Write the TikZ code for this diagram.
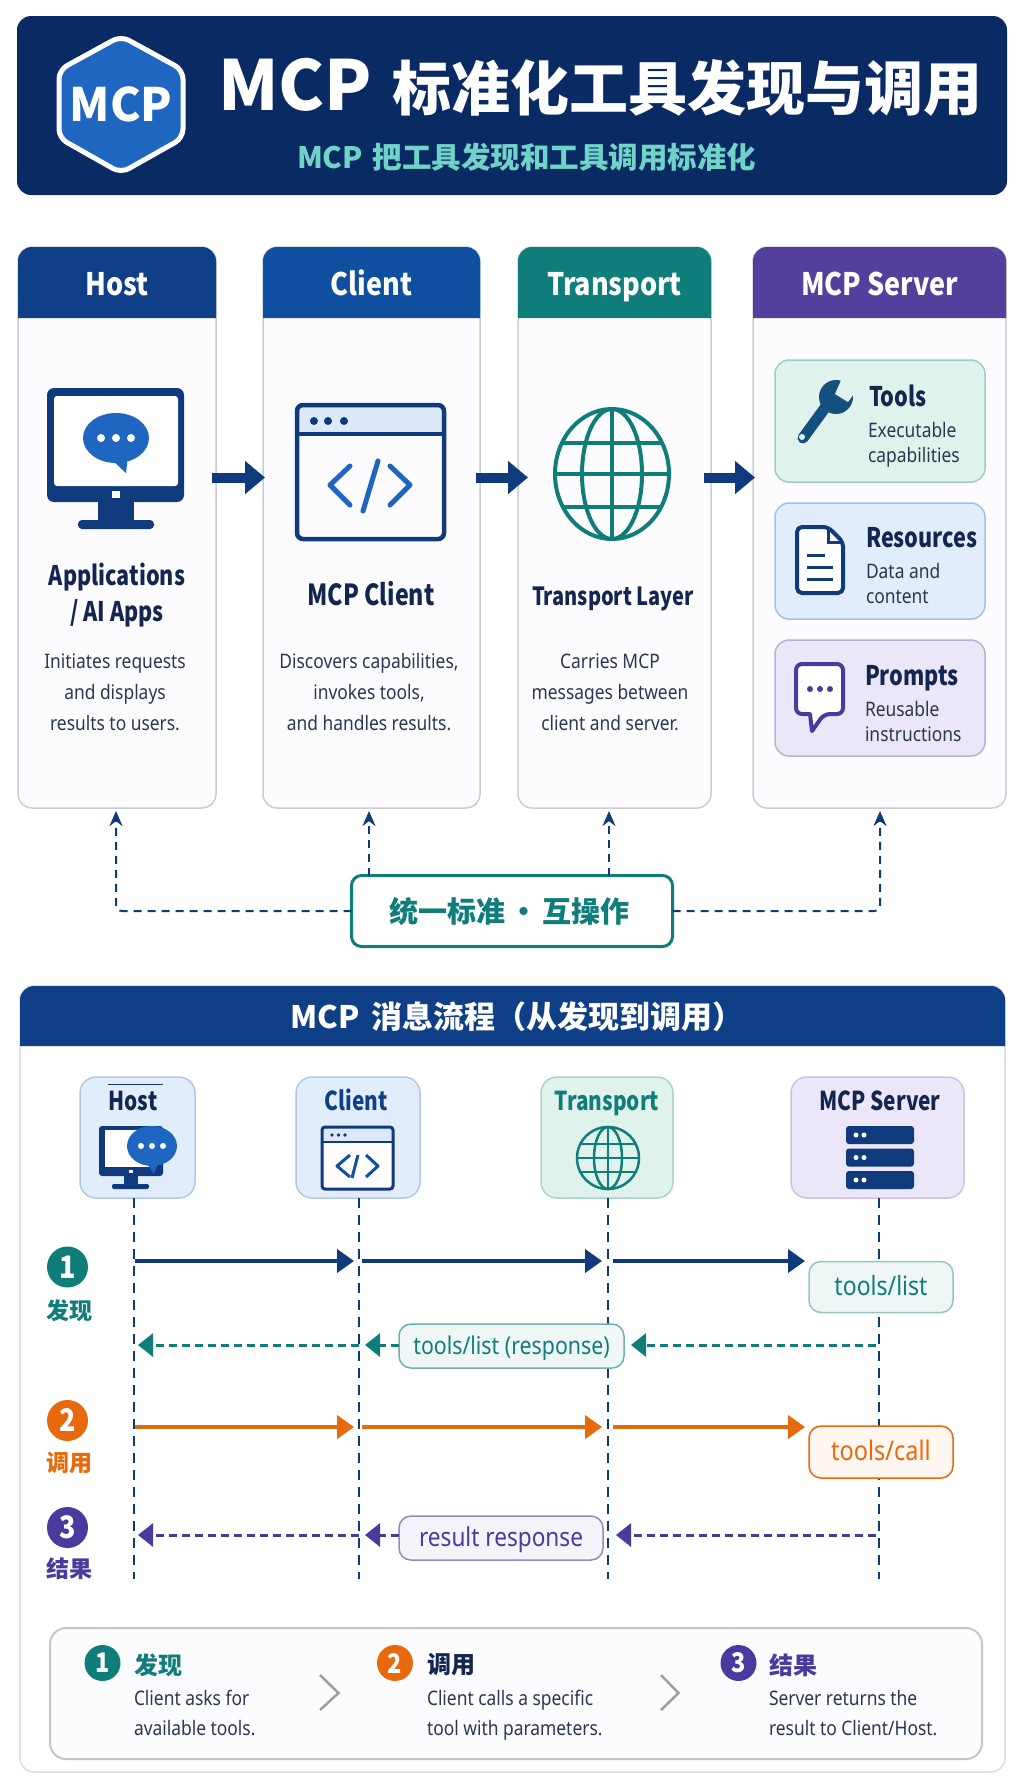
\documentclass[tikz,border=0pt]{standalone}
\usepackage{fontspec}
\setmainfont{Noto Sans}[FakeStretch=0.87]
\newfontfamily\cjk{Noto Sans CJK SC}
\newfontfamily\headfont{Noto Sans CJK SC}[FakeStretch=0.87]
\newfontfamily\namefont{Noto Sans CJK SC}[FakeStretch=0.8]
\usepackage{xcolor}
\usetikzlibrary{arrows.meta, positioning}

\definecolor{bannernavy}{HTML}{0A2A63}
\definecolor{navy}{HTML}{0F3A7C}
\definecolor{headnavy}{HTML}{0F3F86}
\definecolor{headblue}{HTML}{0F4F9F}
\definecolor{brandblue}{HTML}{1F66C1}
\definecolor{teal}{HTML}{0F7D7A}
\definecolor{violet}{HTML}{4A3A9E}
\definecolor{headviolet}{HTML}{54409C}
\definecolor{amber}{HTML}{E8690C}
\definecolor{ink}{HTML}{12264F}
\definecolor{body}{HTML}{2B3750}
\definecolor{mint}{HTML}{6FD3C7}
\definecolor{panelline}{HTML}{C9CED6}
\definecolor{mintfill}{HTML}{DFF3EC}
\definecolor{bluefill}{HTML}{E1EDFB}
\definecolor{violetfill}{HTML}{EBE6F8}
\definecolor{wrenchblue}{HTML}{14507F}
\definecolor{barblue}{HTML}{DCE8F8}

\begin{document}
\begin{tikzpicture}[
    x=1pt, y=-1pt,
    font=\fontsize{20}{31}\selectfont,
    every node/.style={inner sep=0pt, outer sep=0pt},
    panelbody/.style={rectangle, rounded corners=14pt, draw=panelline, line width=1.5pt, fill=blue!1!white, anchor=north west, minimum height=561pt},
    headtext/.style={text=white, anchor=base, font=\headfont\fontsize{31}{34}\selectfont\bfseries},
    bigname/.style={text=ink, align=center, font=\namefont\fontsize{27}{36}\selectfont\bfseries},
    blurb/.style={text=body, align=center},
    minibox/.style={rectangle, rounded corners=14pt, line width=1.5pt, minimum width=210pt},
    mininame/.style={text=ink, anchor=base west, font=\namefont\fontsize{27}{30}\selectfont\bfseries},
    miniblurb/.style={text=body, anchor=west, align=left, font=\fontsize{20}{25}\selectfont},
    bigarrow/.style={-{Triangle[length=20pt, width=32pt]}, navy, line width=10pt},
    linkline/.style={-{Stealth[length=15pt, width=13pt]}, navy, line width=2pt, dash pattern=on 8pt off 6pt, rounded corners=6pt},
    card/.style={rectangle, rounded corners=16pt, line width=1.5pt, anchor=north west, minimum height=121pt},
    cardname/.style={anchor=base, font=\namefont\fontsize{26}{30}\selectfont\bfseries},
    lifeline/.style={navy, line width=1.5pt, dash pattern=on 10pt off 7pt},
    callarrow/.style={-{Triangle[length=17pt, width=23pt]}, line width=4pt},
    backarrow/.style={-{Triangle[length=15pt, width=23pt]}, line width=3pt, dash pattern=on 8pt off 5pt},
    msgbox/.style={rectangle, rounded corners=12pt, line width=1.5pt, text height=23pt, text depth=6pt},
    stepdot/.style={circle, minimum size=41pt, text=white, font=\headfont\fontsize{31}{30}\selectfont\bfseries},
    steplabel/.style={font=\cjk\fontsize{23}{26}\selectfont\bfseries},
    keydot/.style={circle, minimum size=36pt, text=white, font=\headfont\fontsize{27}{28}\selectfont\bfseries},
    keylabel/.style={anchor=west, font=\cjk\fontsize{24}{28}\selectfont\bfseries},
    keyblurb/.style={text=body, anchor=north west, align=left, font=\fontsize{20}{30}\selectfont},
    chevron/.style={draw=gray!75, line width=2.5pt}
]

\useasboundingbox (0,0) rectangle (1024,1792);
\fill[white] (0,0) rectangle (1024,1792);

\fill[bannernavy, rounded corners=14pt] (17,16) rectangle (1007,195);
\draw[draw=white, fill=brandblue, line width=5pt, rounded corners=9pt] (121,36) -- (183,70) -- (183,138) -- (121,173) -- (59,138) -- (59,70) -- cycle;
\node[text=white, font=\cjk\fontsize{46}{50}\selectfont\bfseries] (logo) at (121,104) {MCP};
\node[anchor=west, text=white, font=\cjk\fontsize{69}{72}\selectfont\bfseries] (title) at (218,87) {MCP\hspace{21pt}\fontsize{59}{72}\selectfont 标准化工具发现与调用};
\node[anchor=west, text=mint, font=\cjk\fontsize{29.5}{34}\selectfont\bfseries] (subtitle) at (297,157) {MCP\hspace{10pt}把工具发现和工具调用标准化};

\foreach \name/\lft/\rgt/\shade/\label in {host/18/216/headnavy/Host, client/263/480/headblue/Client, transport/518/711/teal/Transport, server/753/1006/headviolet/MCP Server} {
    \node[panelbody, minimum width={(\rgt-\lft)*1pt}] (\name) at (\lft,247) {};
    \fill[\shade] (\lft,318) [rounded corners=14pt] -- (\lft,247) -- (\rgt,247) [sharp corners] -- (\rgt,318) -- cycle;
    \node[headtext] (\name head) at ({(\lft+\rgt)/2},295) {\label};
}

\fill[navy, rounded corners=7pt] (47,388) rectangle (184,502);
\fill[white, rounded corners=3pt] (54,396) rectangle (178,486);
\fill[white] (112,491) rectangle (120,498);
\fill[navy] (98,502) rectangle (134,522);
\fill[navy, rounded corners=4pt] (78,520) rectangle (154,529);
\fill[brandblue] (116,438) ellipse [x radius=33pt, y radius=25pt];
\fill[brandblue] (112,460) -- (126,473) -- (128,455) -- cycle;
\foreach \dotx in {101,116,131} \fill[white] (\dotx,438) circle (4pt);

\fill[barblue, rounded corners=6pt] (297,405) rectangle (444,434);
\draw[navy, line width=4.5pt, rounded corners=6pt] (297,405) rectangle (444,539);
\draw[navy, line width=4.5pt] (297,434) -- (444,434);
\foreach \dotx in {314,328,344} \fill[navy] (\dotx,421) circle (4pt);
\draw[brandblue, line width=5pt, line cap=round, line join=round] (350,466) -- (330,485) -- (350,505);
\draw[brandblue, line width=5pt, line cap=round, line join=round] (390,466) -- (410,485) -- (390,505);
\draw[brandblue, line width=5pt, line cap=round] (378,461) -- (363,511);

\draw[teal, line width=4pt] (612,474) ellipse [x radius=57pt, y radius=65pt];
\draw[teal, line width=4pt] (612,474) ellipse [x radius=30pt, y radius=65pt];
\draw[teal, line width=4pt] (612,409) -- (612,539);
\draw[teal, line width=4pt] (562,443) -- (662,443);
\draw[teal, line width=4pt] (555,474) -- (669,474);
\draw[teal, line width=4pt] (562,507) -- (662,507);

\node[bigname] (hostname) at (117,595) {Applications\\/ AI Apps};
\node[blurb] (hostblurb) at (115,692) {Initiates requests\\and displays\\results to users.};
\node[bigname, anchor=base, font=\namefont\fontsize{29}{36}\selectfont\bfseries] (clientname) at (371,605) {MCP Client};
\node[blurb] (clientblurb) at (369,692) {Discovers capabilities,\\invokes tools,\\and handles results.};
\node[bigname, anchor=base, font=\namefont\fontsize{25}{36}\selectfont\bfseries] (transportname) at (613,605) {Transport Layer};
\node[blurb] (transportblurb) at (610,692) {Carries MCP\\messages between\\client and server.};

\node[minibox, draw=teal!40, fill=mintfill, minimum height=122pt] (tools) at (880,421) {};
\node[minibox, draw=brandblue!40, fill=bluefill, minimum height=116pt, below=21pt of tools] (resources) {};
\node[minibox, draw=violet!40, fill=violetfill, minimum height=116pt, below=21pt of resources] (prompts) {};

\draw[wrenchblue, line width=11pt, line cap=round] (803,438) -- (830,401);
\fill[wrenchblue] (836,397) circle (17pt);
\fill[mintfill] (835,394) -- (843,376) -- (858,388) -- (848,402) -- cycle;
\fill[mintfill] (802,437) circle (3pt);
\node[mininame] (toolsname) at (869,406) {Tools};
\node[miniblurb] (toolsblurb) at (868,445) {Executable\\capabilities};

\draw[navy, fill=white, line width=4pt, rounded corners=5pt] (797,527) -- (828,527) -- (843,542) -- (843,593) -- (797,593) -- cycle;
\draw[navy, line width=3pt] (828,527) -- (828,542) -- (843,542);
\draw[navy, line width=3pt] (807,555) -- (825,555);
\draw[navy, line width=3pt] (807,567) -- (833,567);
\draw[navy, line width=3pt] (807,579) -- (833,579);
\node[mininame] (resourcesname) at (866,547) {Resources};
\node[miniblurb] (resourcesblurb) at (866,583) {Data and\\content};

\draw[violet, fill=white, line width=4pt, line join=round, rounded corners=6pt] (796,664) -- (843,664) -- (843,714) -- (824,714) [sharp corners] -- (812,731) -- (810,714) [rounded corners=6pt] -- (796,714) -- cycle;
\foreach \dotx in {810,820,830} \fill[violet] (\dotx,689) circle (3pt);
\node[mininame] (promptsname) at (865,685) {Prompts};
\node[miniblurb] (promptsblurb) at (865,721) {Reusable\\instructions};

\draw[bigarrow, shorten <=-4pt, shorten >=-2pt] ([yshift=50pt]host.east) -- ([yshift=50pt]client.west);
\draw[bigarrow, shorten <=-4pt, shorten >=-10pt] ([yshift=50pt]client.east) -- ([yshift=50pt]transport.west);
\draw[bigarrow, shorten <=-7pt, shorten >=-2pt] ([yshift=50pt]transport.east) -- ([yshift=50pt]server.west);

\node[rectangle, rounded corners=10pt, draw=teal, line width=3pt, fill=white, minimum width=321pt, minimum height=71pt, text=teal] (standard) at (512,911) {\hspace{-5pt}\cjk\fontsize{29}{34}\selectfont\bfseries 统一标准\hspace{4pt}·\hspace{4pt}互操作};
\coordinate (hostup) at (116,811);
\coordinate (clientup) at (369,811);
\coordinate (transportup) at (609,811);
\coordinate (serverup) at (880,811);
\draw[linkline] (standard.west) -| (hostup);
\draw[linkline] (standard.east) -| (serverup);
\draw[linkline] (clientup |- standard.north) -- (clientup);
\draw[linkline] (transportup |- standard.north) -- (transportup);

\node[rectangle, rounded corners=14pt, draw=panelline!70, line width=1.5pt, fill=white, anchor=north west, minimum width=985pt, minimum height=786pt] (flow) at (20,986) {};
\fill[headnavy] (20,1046) [rounded corners=14pt] -- (20,986) -- (1005,986) [sharp corners] -- (1005,1046) -- cycle;
\node[text=white, font=\cjk\fontsize{31}{34}\selectfont\bfseries] (flowhead) at (517,1017) {MCP\hspace{12pt}消息流程（从发现到调用）};

\coordinate (hostline) at (134,1579);
\coordinate (clientline) at (359,1579);
\coordinate (transportline) at (608,1579);
\coordinate (serverline) at (879,1579);

\node[card, draw=brandblue!35, fill=bluefill, minimum width=115pt] (hostcard) at (80,1077) {};
\node[card, draw=brandblue!35, fill=bluefill, minimum width=124pt] (clientcard) at (296,1077) {};
\node[card, draw=teal!35, fill=mintfill, minimum width=132pt] (transportcard) at (541,1077) {};
\node[card, draw=violet!30, fill=violetfill, minimum width=173pt] (servercard) at (791,1077) {};

\draw[lifeline] (hostline |- hostcard.south) -- (hostline);
\draw[lifeline] (clientline |- clientcard.south) -- (clientline);
\draw[lifeline] (transportline |- transportcard.south) -- (transportline);
\draw[lifeline] (serverline |- servercard.south) -- (serverline);

\draw[navy, line width=1pt] (108,1084) -- (163,1084);
\node[cardname, text=ink] (hostcardname) at (133,1110) {Host};
\node[cardname, text=headnavy] (clientcardname) at (356,1110) {Client};
\node[cardname, text=teal] (transportcardname) at (607,1110) {Transport};
\node[cardname, text=ink] (servercardname) at (880,1110) {MCP Server};

\fill[navy, rounded corners=3pt] (99,1126) rectangle (163,1176);
\fill[white] (105,1130) rectangle (157,1167);
\fill[white] (129,1170) rectangle (133,1173);
\fill[navy] (124,1176) rectangle (138,1186);
\fill[navy, rounded corners=2pt] (112,1184) rectangle (149,1189);
\fill[brandblue] (152,1146) ellipse [x radius=25pt, y radius=20pt];
\fill[brandblue] (146,1162) -- (154,1174) -- (159,1160) -- cycle;
\foreach \dotx in {141,152,163} \fill[white] (\dotx,1146) circle (3pt);

\fill[white] (322,1142) rectangle (393,1189);
\fill[barblue] (322,1127) rectangle (393,1142);
\draw[navy, line width=3pt, rounded corners=3pt] (322,1127) rectangle (393,1189);
\draw[navy, line width=2.5pt] (322,1142) -- (393,1142);
\foreach \dotx in {332,338.5,345} \fill[navy] (\dotx,1135) circle (1.8pt);
\draw[headblue, line width=3pt, line join=round] (350,1155) -- (337,1166) -- (350,1177);
\draw[headblue, line width=3pt, line join=round] (366,1155) -- (378,1166) -- (366,1177);
\draw[headblue, line width=3pt] (358,1155) -- (352,1178);

\draw[teal, line width=2.5pt] (608,1158) circle (31pt);
\draw[teal, line width=2.5pt] (608,1158) ellipse [x radius=14pt, y radius=31pt];
\draw[teal, line width=2.5pt] (608,1127) -- (608,1189);
\draw[teal, line width=2.5pt] (580,1144) -- (636,1144);
\draw[teal, line width=2.5pt] (577,1158) -- (639,1158);
\draw[teal, line width=2.5pt] (580,1172) -- (636,1172);

\foreach \racky in {1126,1148.5,1171} {
    \fill[navy, rounded corners=3pt] (846,\racky) rectangle (914,\racky+18);
    \fill[white] (856,\racky+9) circle (2.5pt);
    \fill[white] (864,\racky+9) circle (2.5pt);
}

\node[stepdot, fill=teal] (stepa) at (67.5,1267) {1};
\node[steplabel, text=teal, below=12pt of stepa, xshift=1.5pt] (stepatext) {发现};
\node[stepdot, fill=amber] (stepb) at (67.5,1420.5) {2};
\node[steplabel, text=amber, below=11pt of stepb, xshift=1.5pt] (stepbtext) {调用};
\node[stepdot, fill=violet] (stepc) at (67.5,1527.5) {3};
\node[steplabel, text=violet, below=10pt of stepc, xshift=1.5pt] (stepctext) {结果};

\node[msgbox, draw=teal!45, fill=teal!7, text=teal, minimum width=144pt, minimum height=51pt, font=\fontsize{26.5}{30}\selectfont] (toolslist) at (881,1287) {tools/list};
\node[msgbox, draw=teal!60, fill=teal!7, text=teal, minimum width=225pt, minimum height=44pt, font=\fontsize{24.5}{28}\selectfont] (listreply) at (511.5,1346) {tools/list (response)};
\node[msgbox, draw=amber, fill=amber!6, text=amber, minimum width=144pt, minimum height=52pt, font=\fontsize{27}{30}\selectfont] (toolscall) at (881,1452) {tools/call};
\node[msgbox, draw=violet!60, fill=violet!6, text=violet, minimum width=204pt, minimum height=44pt, font=\fontsize{26}{30}\selectfont] (resultbox) at (501,1538) {result response};

\coordinate (rowa) at (0,1261);
\coordinate (rowb) at (0,1345);
\coordinate (rowc) at (0,1427);
\coordinate (rowd) at (0,1535);

\draw[callarrow, navy, shorten <=1pt, shorten >=5pt] (hostline |- rowa) -- (clientline |- rowa);
\draw[callarrow, navy, shorten <=2.5pt, shorten >=6pt] (clientline |- rowa) -- (transportline |- rowa);
\draw[callarrow, navy, shorten <=4.5pt, shorten >=4pt] (transportline |- rowa) -- (toolslist.west |- rowa);
\draw[backarrow, teal, shorten <=3pt, shorten >=7pt] (serverline |- rowb) -- (listreply.east |- rowb);
\draw[backarrow, teal, shorten >=6pt] (listreply.west |- rowb) -- (clientline |- rowb);
\draw[backarrow, teal, shorten >=4pt] (clientline |- rowb) -- (hostline |- rowb);

\draw[callarrow, amber, shorten <=1pt, shorten >=5pt] (hostline |- rowc) -- (clientline |- rowc);
\draw[callarrow, amber, shorten <=2.5pt, shorten >=6pt] (clientline |- rowc) -- (transportline |- rowc);
\draw[callarrow, amber, shorten <=4.5pt, shorten >=4pt] (transportline |- rowc) -- (toolscall.west |- rowc);
\draw[backarrow, violet, shorten <=3pt, shorten >=13pt] (serverline |- rowd) -- (resultbox.east |- rowd);
\draw[backarrow, violet, shorten >=6pt] (resultbox.west |- rowd) -- (clientline |- rowd);
\draw[backarrow, violet, shorten >=4pt] (clientline |- rowd) -- (hostline |- rowd);

\node[rectangle, rounded corners=16pt, draw=gray!45, line width=2pt, fill=blue!1!white, anchor=north west, minimum width=932pt, minimum height=131pt] (legend) at (50,1628) {};

\node[keydot, fill=teal] (keya) at (102.5,1663) {1};
\node[keylabel, text=teal] (keyatext) at (134,1665) {发现};
\node[keyblurb, below=14pt of keyatext.south west, anchor=north west] (keyablurb) {Client asks for\\available tools.};
\node[keydot, fill=amber] (keyb) at (395,1663) {2};
\node[keylabel, text=ink] (keybtext) at (427,1665) {调用};
\node[keyblurb, below=14pt of keybtext.south west, anchor=north west] (keybblurb) {Client calls a specific\\tool with parameters.};
\node[keydot, fill=violet] (keyc) at (738.5,1663) {3};
\node[keylabel, text=violet] (keyctext) at (769,1665) {结果};
\node[keyblurb, below=14pt of keyctext.south west, anchor=north west] (keycblurb) {Server returns the\\result to Client/Host.};

\draw[chevron] (320,1675) -- (338.5,1693) -- (320,1710);
\draw[chevron] (661,1675) -- (678.5,1693) -- (661,1710);

\end{tikzpicture}
\end{document}
